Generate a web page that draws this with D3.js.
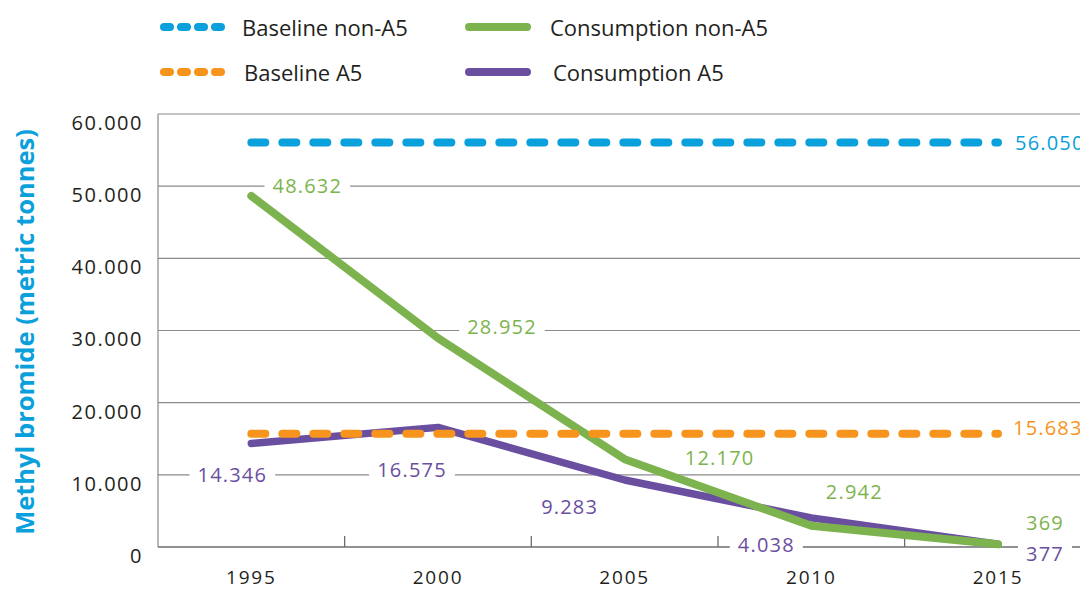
<!DOCTYPE html>
<html><head><meta charset="utf-8">
<script src="https://cdn.jsdelivr.net/npm/d3@7"></script>
<style>html,body{margin:0;padding:0;background:#fff;}svg{display:block;font-family:"Open Sans",sans-serif;}</style>
</head><body><svg id="c" width="1080" height="589"></svg>
<script>
// ---- data ----
const years = ["1995","2000","2005","2010","2015"];
const consumptionNonA5 = [48632, 28952, 12170, 2942, 369];
const consumptionA5 = [14346, 16575, 9283, 4038, 377];
const baselineNonA5 = 56050;
const baselineA5 = 15683;
const yTicks = [0, 10000, 20000, 30000, 40000, 50000, 60000];
const yTickLabels = ["0","10.000","20.000","30.000","40.000","50.000","60.000"];
const nonA5Labels = ["48.632","28.952","12.170","2.942","369"];
const a5Labels = ["14.346","16.575","9.283","4.038","377"];
const baselineNonA5Label = "56.050";
const baselineA5Label = "15.683";
const legendNames = ["Baseline non-A5","Consumption non-A5","Baseline A5","Consumption A5"];
const yTitle = "Methyl bromide (metric tonnes)";

// ---- layout / style ----
const C = {blue:"#0aa0db", green:"#7db34e", orange:"#f7941d", purple:"#6a4ea0", grid:"#8a8a8a", text:"#231f20"};
// label offsets relative to data point [dx, dy, background?]
const nonA5Off = [[56,-11,1],[64,-12,1],[95,-2,0],[43,-34,0],[47,-22,0]];
const a5Off = [[-19,31,1],[-26,42,1],[-55,26,0],[-45,27,1],[47,9,1]];

const svg = d3.select("#c");
const x = d3.scaleBand().domain(years).range([158, 1091.3]).padding(0);
const cx = d => x(d) + x.bandwidth()/2;
const y = d3.scaleLinear().domain([0, 60000]).range([547, 114]);

// gridlines
svg.append("g").selectAll("line").data(yTicks.filter(t=>t>0)).join("line")
  .attr("x1",158).attr("x2",1080).attr("y1",d=>y(d)).attr("y2",d=>y(d))
  .attr("stroke",C.grid).attr("stroke-width",1.2);
// left axis line
svg.append("line").attr("x1",158).attr("x2",158).attr("y1",y(60000)).attr("y2",y(0))
  .attr("stroke",C.grid).attr("stroke-width",1.2);
// bottom axis
svg.append("line").attr("x1",158).attr("x2",1080).attr("y1",y(0)).attr("y2",y(0))
  .attr("stroke","#6d6d6d").attr("stroke-width",1.3);
svg.append("g").selectAll("line").data(years.slice(1)).join("line")
  .attr("x1",d=>x(d)).attr("x2",d=>x(d)).attr("y1",y(0)-11).attr("y2",y(0))
  .attr("stroke","#6d6d6d").attr("stroke-width",1.3);

// y tick labels
const yAxis = d3.axisLeft(y).tickValues(yTicks).tickSize(0).tickPadding(0)
  .tickFormat((d,i)=>yTickLabels[i]);
const ya = svg.append("g").attr("transform","translate(143,0)").call(yAxis);
ya.select(".domain").remove();
ya.selectAll("text").attr("font-size",20).attr("fill",C.text).attr("font-family","Open Sans")
  .attr("letter-spacing",1.5).attr("dy","0.32em").attr("y",9);

// x tick labels
const xAxis = d3.axisBottom(x).tickSize(0).tickPadding(0);
const xa = svg.append("g").attr("transform","translate(0,"+y(0)+")").call(xAxis);
xa.select(".domain").remove();
xa.selectAll("text").attr("font-size",19).attr("fill",C.text).attr("font-family","Open Sans")
  .attr("letter-spacing",1.8).attr("dy",0).attr("y",37);

// y title
svg.append("text").attr("transform","translate(24,332) rotate(-90)")
  .attr("text-anchor","middle").attr("dominant-baseline","central").attr("font-size",25.5).attr("font-weight",700)
  .attr("fill",C.blue).text(yTitle);

// lines
const line = d3.line().x((d,i)=>cx(years[i])).y(d=>y(d));
svg.append("path").datum(consumptionA5).attr("d",line).attr("fill","none")
  .attr("stroke",C.purple).attr("stroke-width",7.5).attr("stroke-linecap","round").attr("stroke-linejoin","round");
svg.append("path").datum(consumptionNonA5).attr("d",line).attr("fill","none")
  .attr("stroke",C.green).attr("stroke-width",8).attr("stroke-linecap","round").attr("stroke-linejoin","round");
const base = [[baselineA5,C.orange],[baselineNonA5,C.blue]];
svg.append("g").selectAll("path").data(base).join("path")
  .attr("d",d=>line(years.map(()=>d[0]))).attr("fill","none")
  .attr("stroke",d=>d[1]).attr("stroke-width",8).attr("stroke-linecap","round")
  .attr("stroke-dasharray","14,17");

// data labels
function labels(vals, texts, offs, color){
  const g = svg.append("g");
  vals.forEach((v,i)=>{
    const px = cx(years[i]) + offs[i][0], py = y(v) + offs[i][1];
    const t = g.append("text").attr("x",px).attr("y",py).attr("text-anchor","middle")
      .attr("dominant-baseline","central").attr("font-size",20).attr("letter-spacing",1.2)
      .attr("fill",color).text(texts[i]);
    if(offs[i][2]){
      const b = t.node().getBBox();
      g.insert("rect","text").attr("x",b.x-8).attr("y",b.y+3).attr("width",b.width+16)
        .attr("height",b.height-6).attr("fill","#fff");
    }
  });
}
labels(consumptionNonA5, nonA5Labels, nonA5Off, C.green);
labels(consumptionA5, a5Labels, a5Off, C.purple);
svg.append("text").attr("x",1015).attr("y",y(baselineNonA5)).attr("dominant-baseline","central")
  .attr("font-size",20).attr("letter-spacing",1.2).attr("fill",C.blue).text(baselineNonA5Label);
svg.append("text").attr("x",1013).attr("y",y(baselineA5)-6).attr("dominant-baseline","central")
  .attr("font-size",20).attr("letter-spacing",1.2).attr("fill",C.orange).text(baselineA5Label);

// legend
const leg = [
  {n:legendNames[0], c:C.blue, dash:true, lx:160, tx:242, ty:27},
  {n:legendNames[1], c:C.green, dash:false, lx:465, tx:550, ty:27},
  {n:legendNames[2], c:C.orange, dash:true, lx:160, tx:244, ty:72},
  {n:legendNames[3], c:C.purple, dash:false, lx:465, tx:553, ty:72}
];
const lg = svg.append("g").selectAll("g").data(leg).join("g");
lg.append("line").attr("x1",d=>d.lx+4).attr("x2",d=>d.lx+62).attr("y1",d=>d.ty).attr("y2",d=>d.ty)
  .attr("stroke",d=>d.c).attr("stroke-width",8).attr("stroke-linecap","round")
  .attr("stroke-dasharray",d=>d.dash?"6,11":null);
lg.append("text").attr("x",d=>d.tx).attr("y",d=>d.ty).attr("dominant-baseline","central")
  .attr("font-size",22).attr("fill",C.text).text(d=>d.n);
</script></body></html>
